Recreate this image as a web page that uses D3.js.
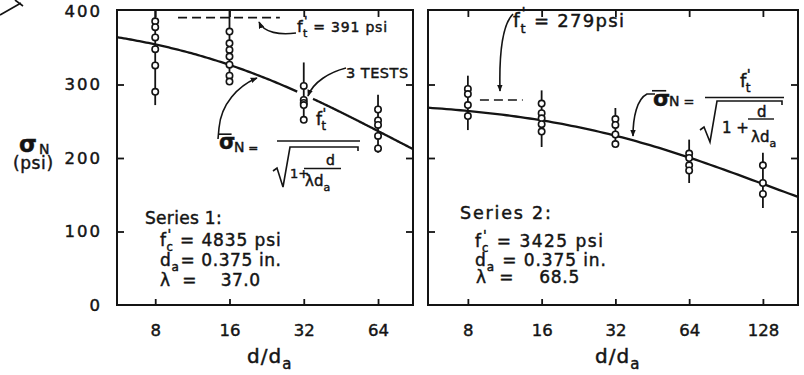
<!DOCTYPE html>
<html>
<head>
<meta charset="utf-8">
<script src="https://cdn.jsdelivr.net/npm/d3@7"></script>
<style>
  body { margin: 0; background: #fff; }
  svg { display: block; }
  text { font-family: "DejaVu Sans", sans-serif; fill: #141414; stroke: #141414; stroke-width: 0.45px; white-space: pre; }
</style>
</head>
<body>
<svg id="chart" width="804" height="375"></svg>
<script>
// ---- Series 1: f'c = 4835 psi, da = 0.375 in., lambda = 37.0 ----
const ratios1 = [8, 16, 32, 64];
const tests1 = [
  [386, 378, 364, 348, 326, 290],
  [372, 356, 347, 338, 327, 312, 304],
  [298, 279, 275, 272, 252],
  [266, 251, 245, 230, 213]
];
const spans1 = [[400, 272], [400, 300], [330, 250], [286, 207]];
const ftPrime1 = 391;
const lambda1 = 37.0;

// ---- Series 2: f'c = 3425 psi, da = 0.375 in., lambda = 68.5 ----
const ratios2 = [8, 16, 32, 64, 128];
const tests2 = [
  [294, 287, 272, 257],
  [274, 261, 254, 246, 236],
  [253, 245, 232, 219],
  [206, 200, 190, 183],
  [190, 166, 151]
];
const spans2 = [[312, 238], [292, 215], [268, 219], [225, 166], [207, 132]];
const ftPrime2 = 279;
const lambda2 = 68.5;

const yTicks = [0, 100, 200, 300, 400];

const ink = "#141414";
const svg = d3.select("#chart");

const y = d3.scaleLinear().domain([0, 400]).range([305, 11]);

const panels = [
  {
    ratios: ratios1, tests: tests1, spans: spans1, ft: ftPrime1, lambda: lambda1,
    x: d3.scaleLog().base(2).domain([5.6, 88.7]).range([117, 413]),
    curveParts: [[5.6, 30.1], [34.9, 88.7]],
    dash: [9.9, 25.6],
    labels: true
  },
  {
    ratios: ratios2, tests: tests2, spans: spans2, ft: ftPrime2, lambda: lambda2,
    x: d3.scaleLog().base(2).domain([5.5, 178]).range([428, 798]),
    curveParts: [[5.5, 178]],
    dash: [8.96, 13.4],
    labels: false
  }
];

// arrowhead marker
svg.append("defs").append("marker")
  .attr("id", "head").attr("viewBox", "0 0 10 10")
  .attr("refX", 9).attr("refY", 5)
  .attr("markerWidth", 7).attr("markerHeight", 7)
  .attr("markerUnits", "userSpaceOnUse")
  .attr("orient", "auto")
  .append("path").attr("d", "M0,1 L10,5 L0,9 Z").attr("fill", ink);

// size-effect law: sigma_N = f't / sqrt(1 + d / (lambda * da))
const law = (ft, lambda) => r => ft / Math.sqrt(1 + r / lambda);

panels.forEach(p => {
  const g = svg.append("g");
  const [x0, x1] = p.x.range();
  const top = y(400), bot = y(0);

  // frame
  g.append("rect")
    .attr("x", x0).attr("y", top - 1)
    .attr("width", x1 - x0).attr("height", bot - top + 1)
    .attr("fill", "none").attr("stroke", ink).attr("stroke-width", 2);

  // inward ticks on all four sides
  const tickStyle = sel => {
    sel.select(".domain").remove();
    sel.selectAll(".tick line").attr("stroke", ink).attr("stroke-width", 1.8);
  };
  g.append("g").attr("transform", `translate(0,${top})`)
    .call(d3.axisTop(p.x).tickValues(p.ratios).tickSizeInner(-6).tickSizeOuter(0).tickFormat(""))
    .call(tickStyle);
  const bAxis = g.append("g").attr("transform", `translate(0,${bot})`)
    .call(d3.axisBottom(p.x).tickValues(p.ratios).tickSizeInner(-6).tickSizeOuter(0)
      .tickPadding(19).tickFormat(d3.format("d")))
    .call(tickStyle);
  bAxis.selectAll("text").attr("fill", ink).style("font-size", "16.5px")
    .style("font-family", "DejaVu Sans, sans-serif");

  g.append("g").attr("transform", `translate(${x0},0)`)
    .call(d3.axisLeft(y).tickValues(yTicks.slice(1, 4)).tickSizeInner(-7).tickSizeOuter(0).tickFormat(""))
    .call(tickStyle);
  g.append("g").attr("transform", `translate(${x1},0)`)
    .call(d3.axisRight(y).tickValues(yTicks.slice(1, 4)).tickSizeInner(-7).tickSizeOuter(0).tickFormat(""))
    .call(tickStyle);

  if (p.labels) {
    const yl = g.append("g").attr("transform", `translate(${x0},0)`)
      .call(d3.axisLeft(y).tickValues(yTicks).tickSize(0).tickPadding(15).tickFormat(d3.format("d")));
    yl.select(".domain").remove();
    yl.selectAll("text").attr("fill", ink).style("font-size", "16.5px")
      .style("letter-spacing", "2px").style("font-family", "DejaVu Sans, sans-serif");
  }

  // fitted size-effect curve
  const f = law(p.ft, p.lambda);
  const line = d3.line().x(d => p.x(d)).y(d => y(f(d)));
  p.curveParts.forEach(([a, b]) => {
    const pts = d3.range(0, 81).map(i => a * Math.pow(b / a, i / 80));
    g.append("path").attr("d", line(pts))
      .attr("fill", "none").attr("stroke", ink).attr("stroke-width", 2.3);
  });

  // tensile strength reference (dashed)
  g.append("line")
    .attr("x1", p.x(p.dash[0])).attr("x2", p.x(p.dash[1]))
    .attr("y1", y(p.ft)).attr("y2", y(p.ft))
    .attr("stroke", ink).attr("stroke-width", 1.6).attr("stroke-dasharray", "9,5");

  // test results: span line + open circles
  p.ratios.forEach((r, i) => {
    g.append("line")
      .attr("x1", p.x(r)).attr("x2", p.x(r))
      .attr("y1", y(p.spans[i][0])).attr("y2", y(p.spans[i][1]))
      .attr("stroke", ink).attr("stroke-width", 1.8);
    g.selectAll(null).data(p.tests[i]).join("circle")
      .attr("cx", p.x(r)).attr("cy", v => y(v)).attr("r", 3.2)
      .attr("fill", "#fff").attr("stroke", ink).attr("stroke-width", 1.6);
  });
});

// ---- text helpers ----
// one text element built from runs; a run may be raised (sup), lowered (sub)
// or tucked back under the previous run (back)
function rich(x, yb, size, runs, spacing) {
  const t = svg.append("text").attr("x", x).attr("y", yb).style("font-size", size + "px");
  if (spacing) t.style("letter-spacing", spacing + "px");
  let shift = 0, prev = null;
  runs.forEach(r => {
    if (typeof r === "string") r = { s: r };
    const ts = t.append("tspan").text(r.s);
    if (r.size) ts.style("font-size", r.size + "px");
    const target = r.sub ? size * 0.3 : r.sup ? -size * 0.42 : 0;
    if (target !== shift) { ts.attr("dy", target - shift); shift = target; }
    let dx = r.dx || 0;
    if (r.back && prev) dx -= prev.node().getComputedTextLength() + 1;
    if (dx) ts.attr("dx", dx);
    prev = ts;
  });
  return t;
}
// f' with subscript
const fp = (sub, size) => [
  "f",
  { s: "'", sup: true, size: size * 0.8, dx: 0.5 },
  { s: sub, sub: true, size: size * 0.68, back: true }
];
// sigma with overbar
function sigmaBar(x, yc, size) {
  svg.append("text").attr("x", x).attr("y", yc + size * 0.28)
    .style("font-size", size + "px").style("font-weight", "bold").text("σ");
  svg.append("line").attr("x1", x - 1).attr("x2", x + size * 0.6)
    .attr("y1", yc - size * 0.42).attr("y2", yc - size * 0.42)
    .attr("stroke", ink).attr("stroke-width", 1.6);
}
function arrow(d) {
  svg.append("path").attr("d", d).attr("fill", "none").attr("stroke", ink)
    .attr("stroke-width", 1.6).attr("marker-end", "url(#head)");
}
function rule(x1, x2, yy, w) {
  svg.append("line").attr("x1", x1).attr("x2", x2).attr("y1", yy).attr("y2", yy)
    .attr("stroke", ink).attr("stroke-width", w || 1.6);
}

// x-axis titles
rich(247, 363, 20, ["d/d", { s: "a", sub: true, size: 15 }], 1);
rich(595, 363, 20, ["d/d", { s: "a", sub: true, size: 15 }], 1);

// y-axis title
rich(19, 152, 23, ["σ"]).style("font-weight", "bold");
rich(39, 154, 14, ["N"]);
rich(13, 169, 17, ["(psi)"], 0.6);

// corner mark
svg.append("path").attr("d", "M0,15 L21,3 M15,0 L23,6")
  .attr("fill", "none").attr("stroke", ink).attr("stroke-width", 1.6);

// ---- left panel annotations ----
rich(297, 32, 16, [...fp("t", 16), { s: " = 391 psi", size: 14 }], 0.8);
arrow("M296,33 C280,35 264,33 259,22");

rich(346, 78, 14.5, ["3 TESTS"], 0.5);
arrow("M346,68 C330,72 313,82 308,96");

rich(316, 125, 17, fp("t", 17));
rule(277, 360, 141);
sigmaBar(219, 143, 21);
rich(234, 152, 14, ["N", { s: " =", size: 12 }]);
svg.append("path").attr("d", "M273,171 L277,168 L283,187 L290,147 L358,147 L358,151")
  .attr("fill", "none").attr("stroke", ink).attr("stroke-width", 1.6);
rich(290, 178, 13, ["1+"]);
rich(326, 165, 14, ["d"]);
rule(304, 341, 168.5, 1.4);
rich(305, 186, 15, ["λd", { s: "a", sub: true, size: 11 }]);
arrow("M218,139 L219,128 C221,104 238,86 257,78");

rich(145, 224, 17, ["Series 1:"], 0.3);
rich(160, 246, 17, [...fp("c", 17), " = 4835 psi"], 0.9);
rich(160, 266, 17, ["d", { s: "a", sub: true, size: 12 }, { s: "= 0.375 in.", dx: 1 }], 0.6);
rich(160, 286, 17, ["λ  =    37.0"], 0.5);

// ---- right panel annotations ----
rich(513, 27, 19, [...fp("t", 19), { s: " = 279psi", size: 18 }], 1.3);
arrow("M513,14 C503,24 499,52 500,91");

sigmaBar(653, 100, 22);
rich(669, 106, 14, ["N", { s: " =", size: 13 }]);
rich(740, 87, 18, fp("t", 18));
rule(705, 784, 97.5);
svg.append("path").attr("d", "M700,130 L704,127 L710,142 L717,101 L782,101 L782,105")
  .attr("fill", "none").attr("stroke", ink).attr("stroke-width", 1.6);
rich(722, 133, 15, ["1 +"]);
rich(757, 117, 15, ["d"]);
rule(748, 774, 119, 1.4);
rich(751, 142, 15, ["λd", { s: "a", sub: true, size: 11 }]);
arrow("M655,94 L647,94 C637,99 633,117 633,136");

rich(460, 219, 17.5, ["Series 2:"], 1.8);
rich(475, 247, 17, [...fp("c", 17), " = 3425 psi"], 1.5);
rich(475, 266, 17, ["d", { s: "a", sub: true, size: 12 }, { s: " = 0.375 in.", dx: 1 }], 0.9);
rich(476, 283, 17, ["λ  =    68.5"], 0.8);
</script>
</body>
</html>
